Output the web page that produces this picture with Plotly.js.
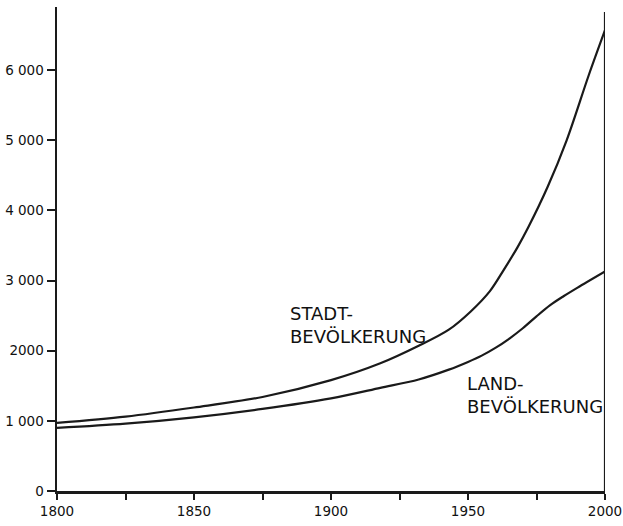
<!DOCTYPE html>
<html>
<head>
<meta charset="utf-8">
<script src="https://cdn.plot.ly/plotly-3.0.1.min.js"></script>
<style>html,body{margin:0;padding:0;background:#fff;}#chart{width:623px;height:526px;}</style>
</head>
<body>
<div id="chart"></div>
<script>
const stadtYears = [1800, 1825, 1850, 1875, 1900, 1918, 1932, 1943, 1951, 1958, 1963, 1968, 1972, 1979, 1986, 1994, 2000];
const stadtValues = [970, 1060, 1190, 1340, 1580, 1820, 2070, 2300, 2560, 2850, 3150, 3470, 3760, 4330, 5000, 5920, 6570];
const landYears = [1800, 1825, 1850, 1875, 1900, 1918, 1932, 1943, 1950, 1955, 1960, 1965, 1970, 1975, 1980, 1985, 1990, 2000];
const landValues = [900, 960, 1050, 1170, 1320, 1470, 1590, 1730, 1840, 1930, 2040, 2170, 2320, 2490, 2650, 2780, 2900, 3130];
const yTickVals = [0, 1000, 2000, 3000, 4000, 5000, 6000];
const yTickText = ['0', '1 000', '2000', '3 000', '4 000', '5 000', '6 000'];
const xTickVals = [1800, 1825, 1850, 1875, 1900, 1925, 1950, 1975, 2000];
const xTickText = ['1800', '', '1850', '', '1900', '', '1950', '', '2000'];
const labelStadt = 'STADT-<br>BEVÖLKERUNG';
const labelLand = 'LAND-<br>BEVÖLKERUNG';

const lineStyle = {color: '#1a1a1a', width: 2.2, shape: 'spline', smoothing: 0.9};
const data = [
  {x: stadtYears, y: stadtValues, mode: 'lines', line: lineStyle, hoverinfo: 'skip'},
  {x: landYears, y: landValues, mode: 'lines', line: lineStyle, hoverinfo: 'skip'}
];
const tickFont = {family: 'DejaVu Sans, sans-serif', size: 13.5, color: '#111'};
const labelFont = {family: 'DejaVu Sans, sans-serif', size: 18, color: '#111'};
const layout = {
  width: 623, height: 526,
  margin: {l: 57, r: 18, t: 7, b: 35},
  paper_bgcolor: '#fff', plot_bgcolor: '#fff',
  showlegend: false,
  xaxis: {
    range: [1800, 2000], tickvals: xTickVals, ticktext: xTickText,
    ticks: 'outside', ticklen: 6, tickwidth: 2, tickcolor: '#1a1a1a',
    showline: true, linewidth: 2.5, linecolor: '#1a1a1a',
    showgrid: false, zeroline: false, tickfont: tickFont
  },
  yaxis: {
    range: [0, 6900], tickvals: yTickVals, ticktext: yTickText,
    ticks: 'outside', ticklen: 8, tickwidth: 2, tickcolor: '#1a1a1a',
    showline: true, linewidth: 2.5, linecolor: '#1a1a1a',
    showgrid: false, zeroline: false, tickfont: tickFont
  },
  shapes: [
    {type: 'line', xref: 'x', yref: 'y', x0: 2000, x1: 2000, y0: 0, y1: 6830,
     line: {color: '#1a1a1a', width: 2.2}}
  ],
  annotations: [
    {x: 1884.3, y: 2360, xref: 'x', yref: 'y', text: labelStadt, showarrow: false,
     xanchor: 'left', yanchor: 'middle', align: 'left', font: labelFont},
    {x: 1948.9, y: 1370, xref: 'x', yref: 'y', text: labelLand, showarrow: false,
     xanchor: 'left', yanchor: 'middle', align: 'left', font: labelFont}
  ]
};
Plotly.newPlot('chart', data, layout, {displayModeBar: false, staticPlot: true});
</script>
</body>
</html>
